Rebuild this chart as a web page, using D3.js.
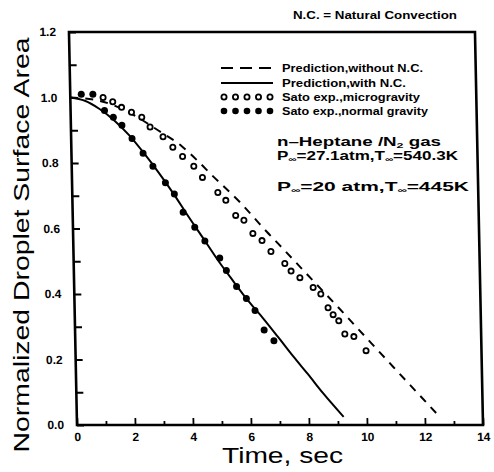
<!DOCTYPE html>
<html>
<head>
<meta charset="utf-8">
<title>Droplet surface area</title>
<style>
body { margin: 0; background: #fff; }
text { font-family: "Liberation Sans", Arial, sans-serif; fill: #000; }
</style>
</head>
<body>
<script src="https://d3js.org/d3.v7.min.js"></script>
<script>
// prediction curves [time, area]
var predNoNC = [[0,1.0],[1,0.99],[2,0.955],[3,0.9],[3.8,0.852],[4.42,0.8],[4.86,0.76],[5.33,0.72],
    [5.78,0.68],[6.28,0.63],[6.68,0.59],[7,0.56],[8,0.464],[9,0.368],[10,0.27],[10.94,0.178],[12.41,0.035]];
var predNC = [[0,1.0],[0.5,0.99],[1,0.965],[1.5,0.93],[2,0.885],[2.5,0.83],[3,0.77],[3.5,0.705],
    [4,0.635],[4.5,0.568],[5,0.5],[5.5,0.438],[6,0.378],[6.5,0.325],[7,0.268],[7.5,0.21],[8,0.155],[8.5,0.098],[9.2,0.025]];
// Sato experiments
var microG = [[1.13,1.0],[1.46,0.987],[1.76,0.97],[2.1,0.955],[2.45,0.94],[2.73,0.91],[3.17,0.88],[3.5,0.848],
    [3.83,0.82],[4.21,0.79],[4.5,0.756],[5.02,0.71],[5.29,0.686],[5.62,0.64],[5.9,0.625],[6.2,0.585],[6.51,0.563],
    [6.81,0.53],[7.28,0.493],[7.49,0.47],[7.79,0.45],[8.24,0.42],[8.5,0.4],[8.74,0.358],[8.91,0.337],[9.1,0.318],
    [9.3,0.278],[9.61,0.27],[10.02,0.227]];
var normalG = [[0.38,1.01],[0.78,1.01],[1.17,0.96],[1.47,0.94],[1.76,0.915],[2.1,0.875],[2.47,0.83],[2.8,0.79],
    [3.22,0.74],[3.52,0.705],[3.81,0.65],[4.2,0.604],[4.54,0.562],[5.04,0.51],[5.26,0.472],[5.6,0.423],
    [5.93,0.386],[6.22,0.35],[6.52,0.29],[6.85,0.257]];
var legendLabels = ["Prediction,without N.C.", "Prediction,with N.C.", "Sato exp.,microgravity", "Sato exp.,normal gravity"];
var xTicks = d3.range(0, 15, 1);
var yTicks = d3.range(0, 13, 1).map(function(d) { return d / 10; });

var width = 494, height = 472;
var plotL = 77, plotR = 483, plotT = 32, plotB = 425;

var x = d3.scaleLinear().domain([0, 14]).range([plotL, plotR]);
var y = d3.scaleLinear().domain([0, 1.2]).range([plotB, plotT]);

var svg = d3.select("body").append("svg")
    .attr("width", width)
    .attr("height", height);

// the scan is slightly sheared, so the plot is too
var g = svg.append("g")
    .attr("transform", "translate(0," + plotB + ") skewX(1.17) translate(0," + (-plotB) + ")");

// x axis, ticks pointing in
var xAxis = g.append("g")
    .attr("transform", "translate(0," + plotB + ")")
    .call(d3.axisBottom(x).tickValues(xTicks).tickSizeInner(-7).tickSizeOuter(0).tickPadding(6)
        .tickFormat(function(d) { return d % 2 == 0 ? d : ""; }));
xAxis.select(".domain").remove();
xAxis.selectAll(".tick line")
    .attr("y2", function(d) { return d % 2 == 0 ? -7 : -4; })
    .attr("stroke-width", 1.8);
xAxis.selectAll(".tick text")
    .attr("y", 7)
    .style("font-size", "12px").style("font-weight", "bold");

var yAxis = g.append("g")
    .attr("transform", "translate(" + plotL + ",0)")
    .call(d3.axisLeft(y).tickValues(yTicks).tickSizeInner(-7).tickSizeOuter(0).tickPadding(13)
        .tickFormat(function(d, i) { return i % 2 == 0 ? d3.format(".1f")(d) : ""; }));
yAxis.select(".domain").remove();
yAxis.selectAll(".tick line").attr("stroke-width", 1.8);
yAxis.selectAll(".tick text")
    .style("font-size", "12px").style("font-weight", "bold");

// frame
g.append("rect")
    .attr("x", plotL).attr("y", plotT)
    .attr("width", plotR - plotL).attr("height", plotB - plotT)
    .attr("fill", "none").attr("stroke", "#000").attr("stroke-width", 2.6);

var line = d3.line()
    .x(function(d) { return x(d[0]); })
    .y(function(d) { return y(d[1]); })
    .curve(d3.curveMonotoneX);

g.append("path").datum(predNoNC)
    .attr("d", line)
    .attr("fill", "none").attr("stroke", "#000").attr("stroke-width", 2)
    .attr("stroke-dasharray", "8,7");

g.append("path").datum(predNC)
    .attr("d", line)
    .attr("fill", "none").attr("stroke", "#000").attr("stroke-width", 2);

g.selectAll(".micro").data(microG).enter().append("circle")
    .attr("class", "micro")
    .attr("cx", function(d) { return x(d[0]); })
    .attr("cy", function(d) { return y(d[1]); })
    .attr("r", 2.6)
    .attr("fill", "#fff").attr("stroke", "#000").attr("stroke-width", 1.8);

g.selectAll(".normal").data(normalG).enter().append("circle")
    .attr("class", "normal")
    .attr("cx", function(d) { return x(d[0]); })
    .attr("cy", function(d) { return y(d[1]); })
    .attr("r", 3.5)
    .attr("fill", "#000");

// legend
var legY = [68, 83, 97, 111];
var leg = svg.append("g");
leg.append("line").attr("x1", 221).attr("x2", 273).attr("y1", legY[0]).attr("y2", legY[0])
    .attr("stroke", "#000").attr("stroke-width", 2).attr("stroke-dasharray", "12,7");
leg.append("line").attr("x1", 221).attr("x2", 273).attr("y1", legY[1]).attr("y2", legY[1])
    .attr("stroke", "#000").attr("stroke-width", 2);
leg.selectAll(".lo").data(d3.range(5)).enter().append("circle")
    .attr("cx", function(d) { return 224 + d * 11.5; }).attr("cy", legY[2]).attr("r", 2.6)
    .attr("fill", "#fff").attr("stroke", "#000").attr("stroke-width", 1.8);
leg.selectAll(".lf").data(d3.range(5)).enter().append("circle")
    .attr("cx", function(d) { return 224 + d * 11.5; }).attr("cy", legY[3]).attr("r", 3.3)
    .attr("fill", "#000");
leg.selectAll(".lt").data(legendLabels).enter().append("text")
    .attr("x", 282).attr("y", function(d, i) { return legY[i] + 4; })
    .attr("textLength", function(d, i) { return [141, 124, 138, 146][i]; })
    .attr("lengthAdjust", "spacingAndGlyphs")
    .style("font-size", "11.5px").style("font-weight", "bold")
    .text(function(d) { return d; });

// conditions
function sub(t, s) { t.append("tspan").attr("dy", 2).style("font-size", "8px").text(s); }
var c1 = svg.append("text").attr("x", 277).attr("y", 146).style("font-size", "12px").style("font-weight", "bold")
    .attr("textLength", 164).attr("lengthAdjust", "spacingAndGlyphs");
c1.append("tspan").text("n\u2013Heptane /N");
sub(c1, "2");
c1.append("tspan").attr("dy", -2).text(" gas");

var c2 = svg.append("text").attr("x", 277).attr("y", 160).style("font-size", "12px").style("font-weight", "bold")
    .attr("textLength", 181).attr("lengthAdjust", "spacingAndGlyphs");
c2.append("tspan").text("P");
sub(c2, "\u221e");
c2.append("tspan").attr("dy", -2).text("=27.1atm,T");
sub(c2, "\u221e");
c2.append("tspan").attr("dy", -2).text("=540.3K");

var c3 = svg.append("text").attr("x", 277).attr("y", 191).style("font-size", "13px").style("font-weight", "bold")
    .attr("textLength", 192).attr("lengthAdjust", "spacingAndGlyphs");
c3.append("tspan").text("P");
sub(c3, "\u221e");
c3.append("tspan").attr("dy", -2).text("=20  atm,T");
sub(c3, "\u221e");
c3.append("tspan").attr("dy", -2).text("=445K");

// header note
svg.append("text").attr("x", 293).attr("y", 19)
    .attr("textLength", 164).attr("lengthAdjust", "spacingAndGlyphs")
    .style("font-size", "10px").style("font-weight", "bold")
    .text("N.C. = Natural Convection");

// axis titles
svg.append("text")
    .attr("x", 222).attr("y", 463)
    .attr("textLength", 121).attr("lengthAdjust", "spacingAndGlyphs")
    .style("font-size", "22px")
    .text("Time,  sec");

svg.append("text")
    .attr("transform", "translate(29,245) rotate(-90)")
    .attr("text-anchor", "middle")
    .attr("textLength", 415).attr("lengthAdjust", "spacingAndGlyphs")
    .style("font-size", "22px")
    .text("Normalized Droplet Surface Area");
</script>
</body>
</html>
